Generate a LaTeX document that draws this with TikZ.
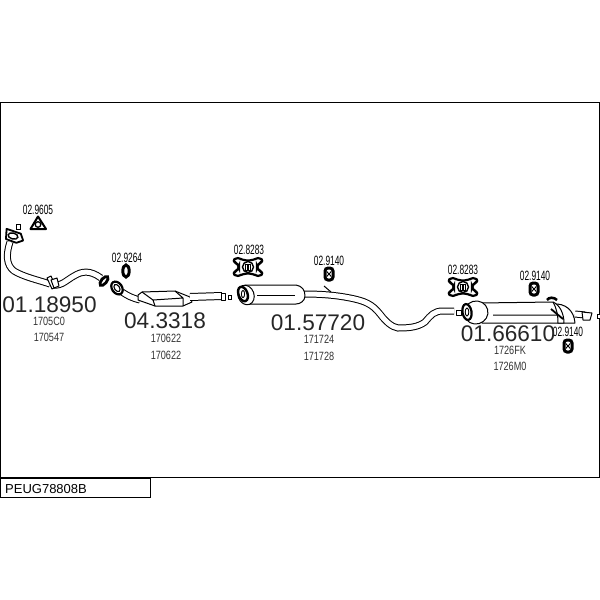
\documentclass[tikz,border=0pt]{standalone}
\usepackage{fontspec}
\setmainfont{Liberation Sans}
\newfontfamily\condA[FakeStretch=0.62]{Liberation Sans}
\newfontfamily\condB[FakeStretch=0.76]{Liberation Sans}
\tikzset{
  bignum/.style={font=\fontsize{22.6}{22.6}\selectfont,inner sep=0pt,text=black!85},
  partno/.style={font=\condA\fontsize{13.5}{13.5}\selectfont,inner sep=0pt},
  refno/.style={font=\condB\fontsize{12}{12}\selectfont,inner sep=0pt,text=black!80},
  tube/.style={draw=black,line width=1pt,double=white,double distance=5pt},
  outline/.style={draw=black,line width=1pt,fill=white,line join=round},
  thick line/.style={draw=black,line width=1pt},
  mount/.pic={
    \draw[black,line width=3pt,fill=white,rounded corners=3pt] (-4,-6) rectangle (4,6);
    \draw[black,line width=.9pt] (-2.3,-2.5) -- (2.3,2.5) (-2.3,2.5) -- (2.3,-2.5);
  },
  bowtie/.pic={
    \draw[black,line width=2.2pt,fill=white,rounded corners=2pt]
      (-15,-6) -- (-12,-9.5) -- (-7,-8) -- (-3,-6.5) -- (3,-6.5) -- (7,-8) -- (12,-9.5) -- (15,-6) -- (11,-3)
      -- (9,-1) -- (9,1) -- (11,3) -- (15,6) -- (12,9.5) -- (7,8)
      -- (3,6.5) -- (-3,6.5) -- (-7,8) -- (-12,9.5) -- (-15,6) -- (-11,3)
      -- (-9,1) -- (-9,-1) -- (-11,-3) -- cycle;
    \draw[black,line width=1.4pt,fill=white] (0,0) circle (5.5);
    \draw[black,line width=.9pt] (-2.4,-3) rectangle (-.2,3) (.2,-3) rectangle (2.4,3);
  },
}
\begin{document}
\begin{tikzpicture}[x=1pt,y=-1pt]
\useasboundingbox (0,0) rectangle (600,600);
% frame
\draw[black,line width=1pt] (0.5,102) rectangle (599.5,477);
\draw[black,line width=1pt] (0.5,478) rectangle (150,497.5);
\node[anchor=west,inner sep=0pt,font=\fontsize{13}{13}\selectfont] (code) at (5,489) {PEUG78808B};

% front pipe
\draw[tube] (10,242) .. controls (6,254) and (6,265) .. (14,271) .. controls (24,277) and (38,280) .. (50,284);
\draw[tube] (54,285) .. controls (62,286) and (68,279) .. (74,276) .. controls (82,271) and (90,270) .. (101,278);
\draw[outline] (47,278) -- (51,276) -- (56,287) -- (52,289) -- cycle;
\draw[outline] (51,280) -- (57,278) -- (59,286) -- (54,288) -- cycle;
\draw[black,line width=2.8pt,fill=white,rotate around={-40:(104,281)}] (104,281) ellipse (2.6 and 5.5);
\draw[outline,line width=1.8pt,rotate around={-15:(14,236)}] (5,231) -- (20,232) -- (24,238) -- (18,242) -- (7,241) -- cycle;
\draw[black,line width=1.4pt,fill=white,rotate around={-15:(13,236)}] (13,236) ellipse (5 and 3);
\draw[black,line width=.9pt,fill=white] (16.5,224.5) rectangle (20.5,229);

% catalyst
\draw[tube] (122,292) .. controls (128,296) and (132,298) .. (140,300);
\draw[outline] (138,295) -- (142,292) -- (175,291) -- (190,297) -- (192,302) -- (183,306) -- (155,306) -- (138,300) -- cycle;
\draw[thick line] (142,292) -- (153,300) -- (155,306) (175,291) -- (183,298) -- (183,306) (153,300) -- (183,298);
\draw[tube,double distance=6pt] (190,297) -- (222,296);
\draw[outline] (221,293) -- (225,293) -- (225,300) -- (221,300) -- cycle;
\draw[black,line width=.9pt,fill=white] (228,295) rectangle (231,299);
\draw[black,line width=2.2pt,fill=white,rotate around={35:(117,288)}] (117,288) ellipse (5 and 7);
\draw[black,line width=1.1pt,rotate around={35:(117,288)}] (117,288) ellipse (2.5 and 4);

% centre silencer and pipe
\draw[tube] (304,294) .. controls (320,294) and (335,295) .. (350,298) .. controls (365,301) and (372,304) .. (380,314)
  .. controls (386,322) and (392,327) .. (398,328) .. controls (410,328) and (418,327) .. (425,322)
  .. controls (431,315) and (434,311) .. (443,311) -- (454,311);
\draw[thick line] (324,286) -- (331,292);
\draw[outline] (245,285) -- (296,285) .. controls (302,286) and (305,290) .. (305,296) .. controls (305,301) and (300,304) .. (296,304) -- (250,304) -- cycle;
\draw[thick line] (257,295) -- (295,295);
\draw[black,line width=1pt,fill=white,rotate around={20:(246,295)}] (246,295) ellipse (8 and 10);
\draw[black,line width=2.4pt,fill=white,rotate around={20:(243,294)}] (243,294) ellipse (4.5 and 7.5);
\draw[black,line width=.9pt] (243,294) ellipse (1.6 and 3.6);

% rear silencer
\draw[tube] (575,314) -- (585,315);
\draw[outline] (582,312) -- (592,313) -- (590,320) -- (583,320) -- cycle;
\draw[black,line width=.9pt,fill=white] (597,314) rectangle (600,318);
\draw[outline] (553,304) .. controls (565,303) and (574,310) .. (575,323) -- (558,323) -- cycle;
\draw[outline] (480,303) -- (553,302) .. controls (560,305) and (564,314) .. (564,323) -- (482,323) -- cycle;
\draw[thick line] (493,315) -- (557,315) (553,302) .. controls (557,309) and (558,316) .. (558,323);
\draw[black,line width=2.6pt] (547,300) .. controls (549,297) and (554,297) .. (557,300);
\draw[thick line,line width=1.8pt] (551,309) -- (563,319);
\draw[black,line width=1pt,fill=white,rotate around={15:(476,312.5)}] (476,312.5) ellipse (12 and 11.5);
\draw[outline] (456,310) rectangle (461,315);
\draw[black,line width=2.2pt,fill=white,rotate around={10:(467,312)}] (467,312) ellipse (4.5 and 8);
\draw[black,line width=.9pt] (467,312) ellipse (1.8 and 4);

% fittings
\draw[black,line width=2pt,fill=white,line join=round] (38,216.5) -- (46,229) -- (30.5,229) -- cycle;
\draw[black,line width=1.3pt,fill=white] (38,224.5) circle (2.8);
\draw[black,line width=3pt,fill=white] (126,271) ellipse (3.2 and 6);
\pic at (248,267) {bowtie};
\pic at (463,287) {bowtie};
\pic at (329,274) {mount};
\pic at (534,289) {mount};
\pic at (568,346) {mount};

% part labels
\node[partno] (a1) at (38,210) {02.9605};
\node[partno] (a2) at (127,258) {02.9264};
\node[partno] (a3) at (249,250) {02.8283};
\node[partno] (a4) at (329,261) {02.9140};
\node[partno] (a5) at (463,270) {02.8283};
\node[partno] (a6) at (535,276) {02.9140};
\node[partno] (a7) at (568,332) {02.9140};
% main numbers
\node[bignum] (b1) at (49.5,305) {01.18950};
\node[bignum] (b2) at (165,321) {04.3318};
\node[bignum] (b3) at (318,323) {01.57720};
\node[bignum] (b4) at (508,334) {01.66610};
% references
\node[refno] (c1) at (49,321) {1705C0};
\node[refno] (c2) at (49,337) {170547};
\node[refno] (c3) at (166,338) {170622};
\node[refno] (c4) at (166,355) {170622};
\node[refno] (c5) at (319,339) {171724};
\node[refno] (c6) at (319,356) {171728};
\node[refno] (c7) at (510,350) {1726FK};
\node[refno] (c8) at (510,366) {1726M0};
\end{tikzpicture}
\end{document}
